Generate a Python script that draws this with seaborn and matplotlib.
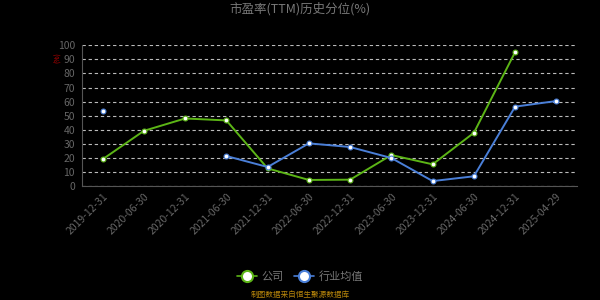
import numpy as np
import pandas as pd
import matplotlib
matplotlib.use("Agg")
import matplotlib.pyplot as plt
from matplotlib.lines import Line2D
import seaborn as sns

dates = ["2019-12-31", "2020-06-30", "2020-12-31", "2021-06-30", "2021-12-31",
         "2022-06-30", "2022-12-31", "2023-06-30", "2023-12-31", "2024-06-30",
         "2024-12-31", "2025-04-29"]
company = [19.0, 39.2, 48.0, 46.6, 12.5, 4.3, 4.5, 22.0, 15.4, 37.8, 95.2, np.nan]
industry = [53.0, np.nan, np.nan, 21.3, 13.5, 30.3, 27.7, 19.9, 3.5, 6.9, 56.4, 60.4]
series_names = ["公司", "行业均值"]
colors = ["#5cb516", "#4a7fd8"]
title = "市盈率(TTM)历史分位(%)"
footer = "制图数据来自恒生聚源数据库"

sns.set_style("dark")
plt.rcParams['font.family'] = ['Noto Sans CJK SC', 'DejaVu Sans']

def to_df(vals, name):
    df = pd.DataFrame({"x": np.arange(len(dates)), "v": vals, "series": name})
    seg = df["v"].isna().cumsum()
    df["seg"] = seg
    return df.dropna()

fig = plt.figure(figsize=(6, 3), dpi=100, facecolor="black")
ax = fig.add_axes([82/600, 1-186/300, (577-82)/600, (186-45.3)/300])
ax.set_facecolor("black")

for vals, name, c in zip([company, industry], series_names, colors):
    d = to_df(vals, name)
    sns.lineplot(data=d, x="x", y="v", units="seg", estimator=None, ax=ax,
                 color=c, linewidth=1.4, marker="o", markersize=3.5,
                 markerfacecolor="white", markeredgecolor=c, markeredgewidth=0.8,
                 legend=False, zorder=3)

ax.set_xlim(-0.5, len(dates)-0.5)
ax.set_ylim(0, 100)
ax.set_yticks(np.arange(0, 101, 10))
ax.set_xticks(np.arange(-0.5, len(dates)), labels=[])
ax.set_xticks(np.arange(len(dates)), labels=dates, minor=True)
ax.tick_params(axis="x", which="major", length=4, color="#666666", width=0.8)
ax.tick_params(axis="x", which="minor", length=0, labelsize=7.5, labelcolor="#666666", pad=4)
for lab in ax.get_xticklabels(minor=True):
    lab.set_rotation(45)
    lab.set_ha("right")
    lab.set_rotation_mode("anchor")
ax.tick_params(axis="y", length=3, color="#666666", labelsize=7.5, labelcolor="#666666", pad=2)
ax.grid(False)
ax.yaxis.grid(True, linestyle=(0, (3, 2.5)), color="#bbbbbb", linewidth=0.8)
ax.xaxis.grid(False)
for s in ["top", "right"]:
    ax.spines[s].set_visible(False)
for s in ["left", "bottom"]:
    ax.spines[s].set_visible(True)
    ax.spines[s].set_color("#555555")
    ax.spines[s].set_linewidth(0.8)
ax.set_xlabel("")
ax.set_ylabel("")

fig.text(0.5, 1-9/300, title, ha="center", va="center", fontsize=9, color="#777777")
fig.text(58/600, 1-58/300, "(%)", ha="center", va="center", rotation=90, fontsize=5, color="#cc0000")
fig.text(0.5, 1-295/300, footer, ha="center", va="center", fontsize=5.5, color="#b8860b")

handles = [Line2D([0], [0], color=c, linewidth=1.2, marker="o", markersize=8,
                  markerfacecolor="white", markeredgecolor=c, markeredgewidth=1.5)
           for c in colors]
leg = fig.legend(handles, series_names, loc="center", bbox_to_anchor=(0.5, 1-277/300),
                 ncol=2, frameon=False, fontsize=8, handlelength=1.8, handletextpad=0.4,
                 columnspacing=1.0, labelcolor="#777777")

fig.savefig("out.png", dpi=100, facecolor="black")
